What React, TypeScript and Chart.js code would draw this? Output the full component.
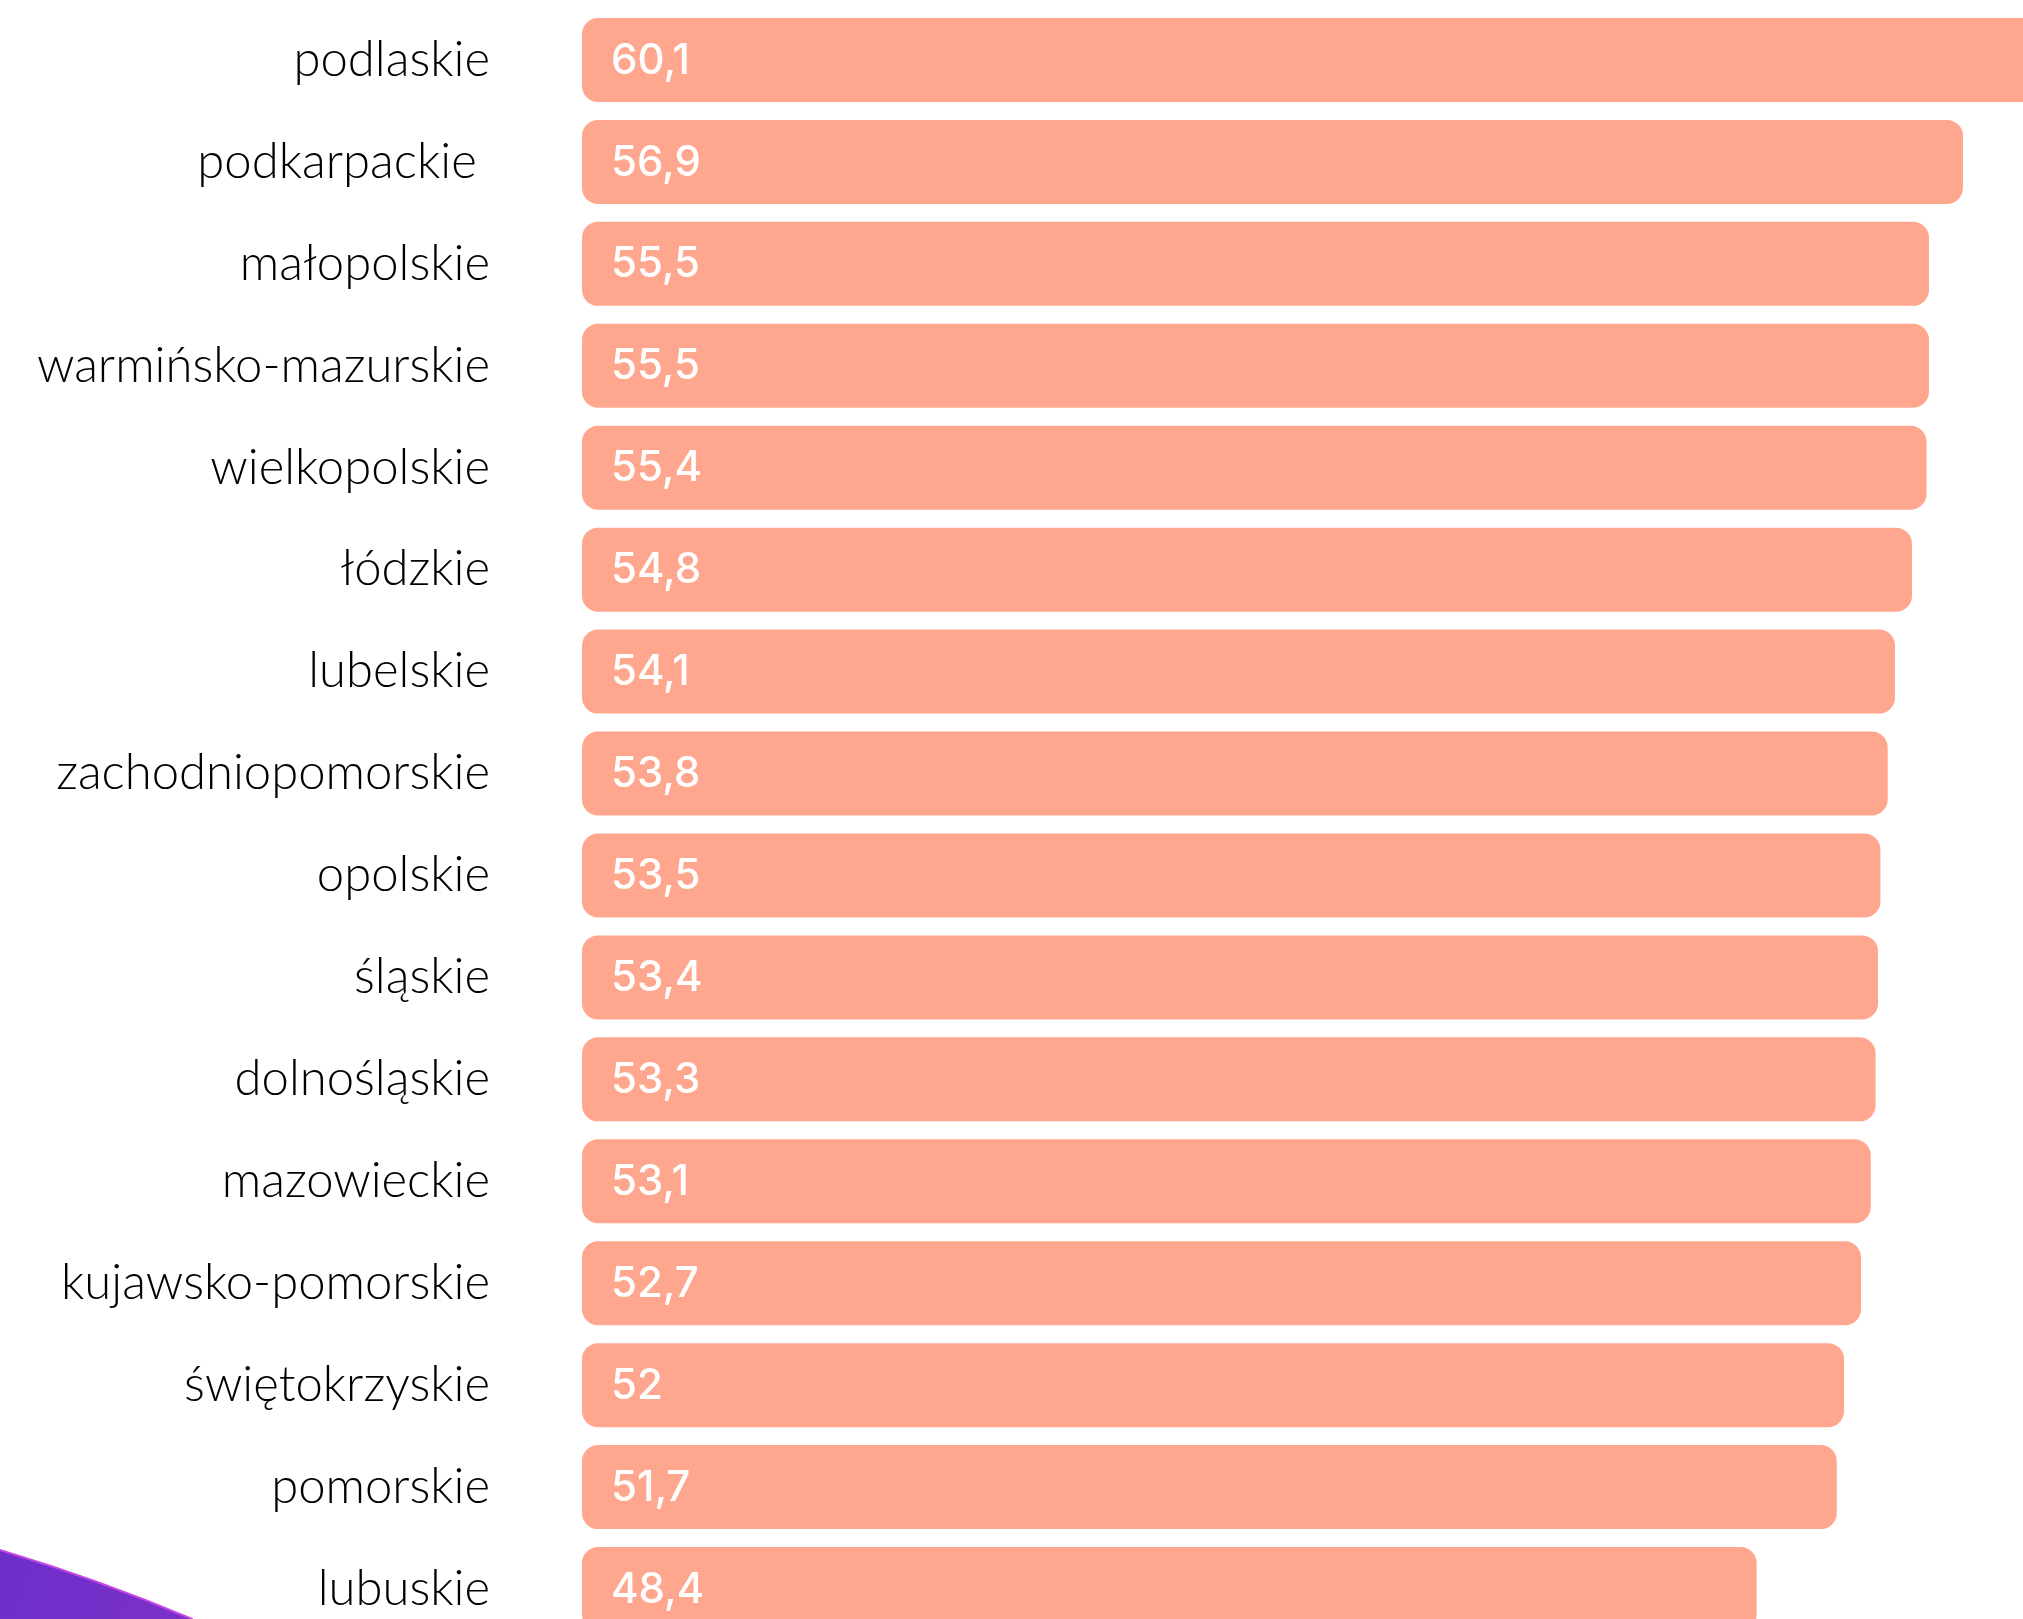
import React, { useEffect, useRef } from "react";
import { Chart, registerables } from "chart.js";

Chart.register(...registerables);

const categories: string[] = [
  "podlaskie",
  "podkarpackie ",
  "małopolskie",
  "warmińsko-mazurskie",
  "wielkopolskie",
  "łódzkie",
  "lubelskie",
  "zachodniopomorskie",
  "opolskie",
  "śląskie",
  "dolnośląskie",
  "mazowieckie",
  "kujawsko-pomorskie",
  "świętokrzyskie",
  "pomorskie",
  "lubuskie",
];

const values: number[] = [
  60.1, 56.9, 55.5, 55.5, 55.4, 54.8, 54.1, 53.8, 53.5, 53.4, 53.3, 53.1, 52.7,
  52, 51.7, 48.4,
];

const BAR_COLOR = "#FFA78E";
const CANVAS_W = 2100;
const CANVAS_H = 1660;

const valueLabels = {
  id: "valueLabels",
  afterDatasetsDraw(chart: any) {
    const ctx = chart.ctx;
    const meta = chart.getDatasetMeta(0);
    ctx.save();
    ctx.fillStyle = "#ffffff";
    ctx.font = "500 42px Inter, 'Noto Sans', sans-serif";
    ctx.textAlign = "left";
    ctx.textBaseline = "middle";
    meta.data.forEach((el: any, i: number) => {
      const v = chart.data.datasets[0].data[i] as number;
      const txt = String(v).replace(".", ",");
      ctx.fillText(txt, el.base + 29, el.y + 1);
    });
    ctx.restore();
  },
};

const decoration = {
  id: "decoration",
  afterDraw(chart: any) {
    const ctx = chart.ctx;
    ctx.save();
    const g = ctx.createLinearGradient(0, 1550, 200, 1619);
    g.addColorStop(0, "#6E2FCB");
    g.addColorStop(1, "#7B30C8");
    ctx.beginPath();
    ctx.moveTo(0, 1550);
    ctx.quadraticCurveTo(100, 1580, 192, 1619);
    ctx.lineTo(226, 1660);
    ctx.lineTo(0, 1660);
    ctx.closePath();
    ctx.fillStyle = g;
    ctx.fill();
    ctx.beginPath();
    ctx.moveTo(0, 1550);
    ctx.quadraticCurveTo(100, 1580, 192, 1619);
    ctx.lineTo(226, 1660);
    ctx.strokeStyle = "#C847E6";
    ctx.lineWidth = 2;
    ctx.stroke();
    ctx.restore();
  },
};

export default function App() {
  const ref = useRef<HTMLCanvasElement | null>(null);

  useEffect(() => {
    if (!ref.current) return;
    const chart = new Chart(ref.current, {
      type: "bar",
      data: {
        labels: categories,
        datasets: [
          {
            data: values,
            backgroundColor: BAR_COLOR,
            borderRadius: 16,
            borderSkipped: false,
            barPercentage: 0.824,
            categoryPercentage: 1,
          },
        ],
      },
      options: {
        indexAxis: "y",
        animation: false,
        responsive: false,
        devicePixelRatio: 1,
        layout: { padding: { top: 9, bottom: 20, left: 0, right: 0 } },
        plugins: {
          legend: { display: false },
          tooltip: { enabled: false },
        },
        scales: {
          x: {
            display: false,
            min: 0,
            max: (CANVAS_W - 582) / 24.27,
          },
          y: {
            grid: { display: false, drawTicks: false },
            border: { display: false },
            ticks: {
              color: "#000000",
              padding: 92,
              font: { family: "Lato, 'Noto Sans', sans-serif", size: 49, weight: "300" as any },
            },
            afterFit(scale: any) {
              scale.width = 582;
              scale.paddingTop = 0;
              scale.paddingBottom = 0;
            },
          },
        },
      },
      plugins: [valueLabels, decoration],
    });
    return () => chart.destroy();
  }, []);

  return (
    <div
      style={{
        position: "fixed",
        left: 0,
        top: 0,
        width: 2023,
        height: 1619,
        overflow: "hidden",
        background: "#ffffff",
      }}
    >
      <canvas
        ref={ref}
        width={CANVAS_W}
        height={CANVAS_H}
        style={{ width: CANVAS_W, height: CANVAS_H, display: "block" }}
      />
    </div>
  );
}
